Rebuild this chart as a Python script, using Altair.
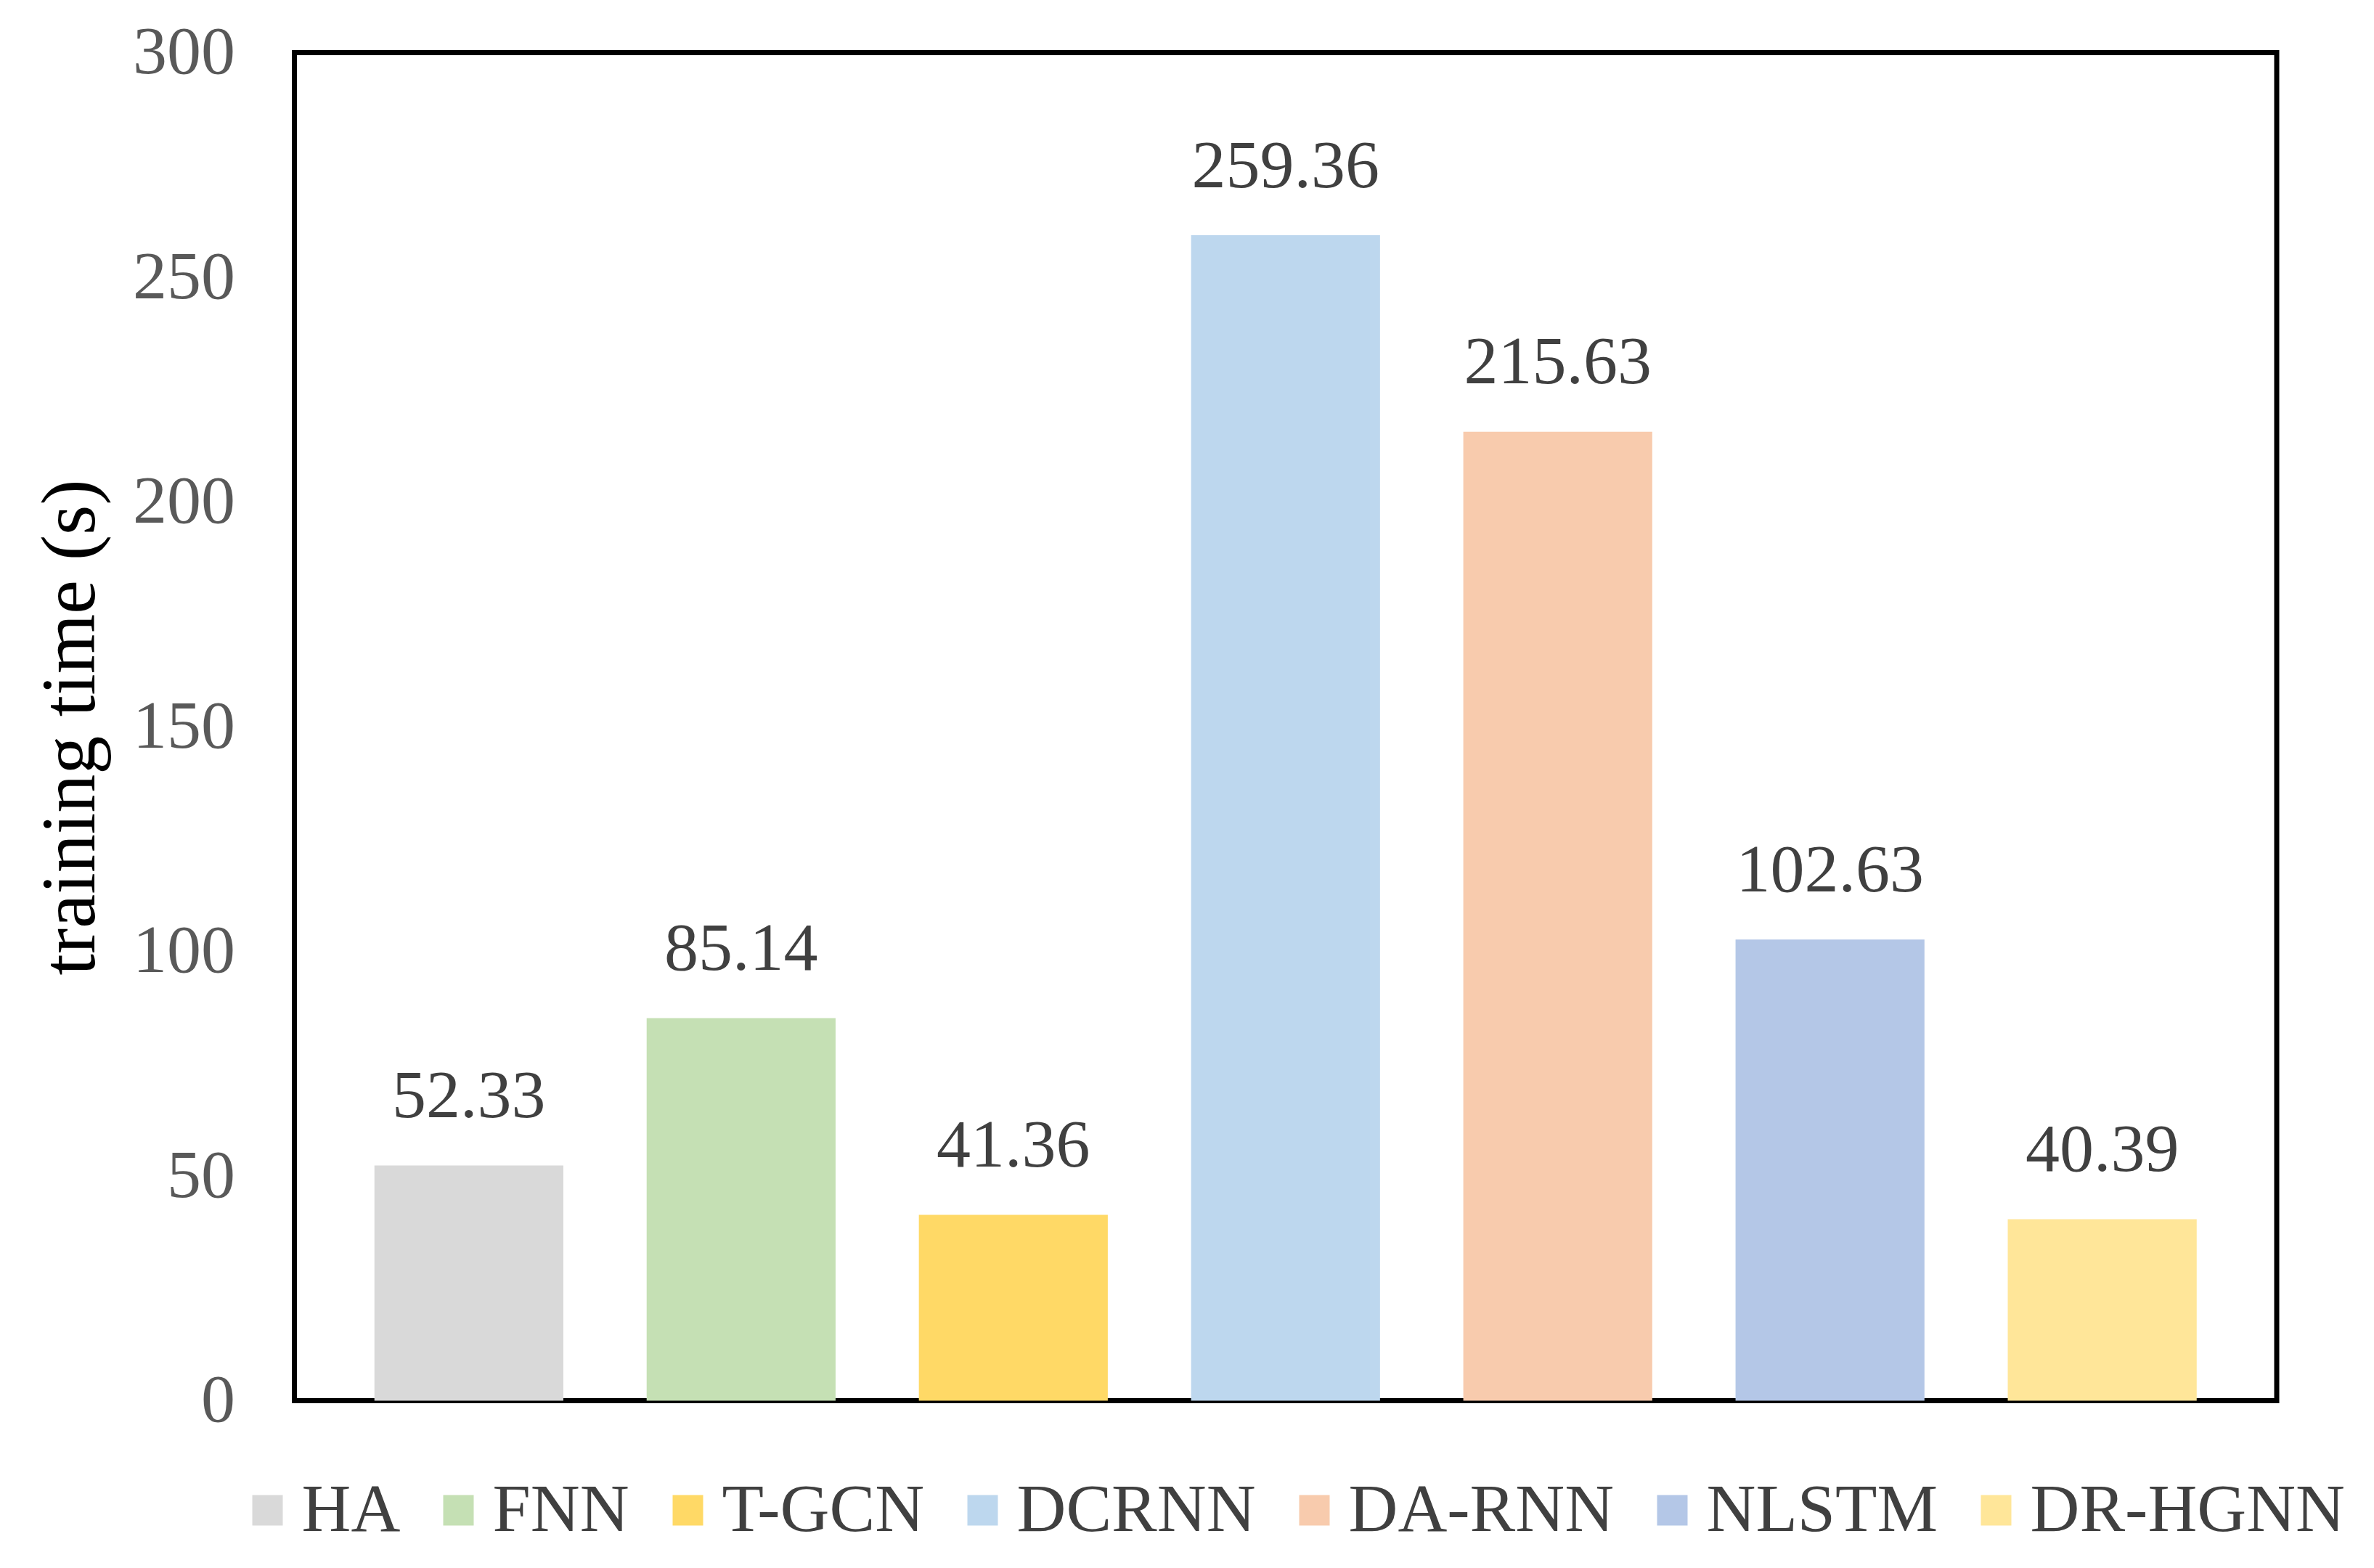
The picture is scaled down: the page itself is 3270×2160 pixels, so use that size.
import altair as alt
import pandas as pd

models = ["HA", "FNN", "T-GCN", "DCRNN", "DA-RNN", "NLSTM", "DR-HGNN"]
times = [52.33, 85.14, 41.36, 259.36, 215.63, 102.63, 40.39]
labels = ["52.33", "85.14", "41.36", "259.36", "215.63", "102.63", "40.39"]
colors = ["#D9D9D9", "#C5E0B4", "#FFD966", "#BDD7EE", "#F8CBAD", "#B4C7E7", "#FFE699"]
y_ticks = [0, 50, 100, 150, 200, 250, 300]

df = pd.DataFrame({"model": models, "time": times, "label": labels})

FONT = "Liberation Serif"

base = alt.Chart(df).encode(
    x=alt.X("model:N", sort=models,
            scale=alt.Scale(paddingInner=0.306, paddingOuter=0.294),
            axis=None)
)

bars = base.mark_bar(opacity=1).encode(
    y=alt.Y("time:Q",
            scale=alt.Scale(domain=[0, 300], nice=False),
            axis=alt.Axis(values=y_ticks, title="training time (s)",
                          labelFont=FONT, labelFontSize=94, labelColor="#595959",
                          labelPadding=82, ticks=False, domain=False, grid=False,
                          titleFont=FONT, titleFontSize=106, titleColor="black",
                          titleFontWeight="normal", titleX=-276, titleY=929,
                          titleAngle=270, titleBaseline="alphabetic", titleAlign="center")),
    color=alt.Color("model:N", sort=models,
                    scale=alt.Scale(domain=models, range=colors),
                    legend=alt.Legend(orient="none", legendX=-84, legendY=1961,
                                      direction="horizontal", columns=7, title=None,
                                      symbolType="square", symbolSize=1764,
                                      symbolStrokeWidth=0, symbolOpacity=1,
                                      labelFont=FONT, labelFontSize=94,
                                      labelColor="#404040", labelOffset=0,
                                      columnPadding=33, padding=0,
                                      labelLimit=1000))
)

text = base.mark_text(font=FONT, fontSize=94, color="#404040",
                      baseline="alphabetic", dy=-66.5).encode(
    y=alt.Y("time:Q"),
    text="label:N"
)

chart = (bars + text).properties(
    width=2730.5, height=1857,
    autosize=alt.AutoSizeParams(type="none"),
    padding={"left": 397.5, "top": 64.5, "right": 126, "bottom": 222.5}
).configure_view(stroke="black", strokeWidth=7)

chart.save("out.html", embed_options={"renderer": "svg", "actions": False})
